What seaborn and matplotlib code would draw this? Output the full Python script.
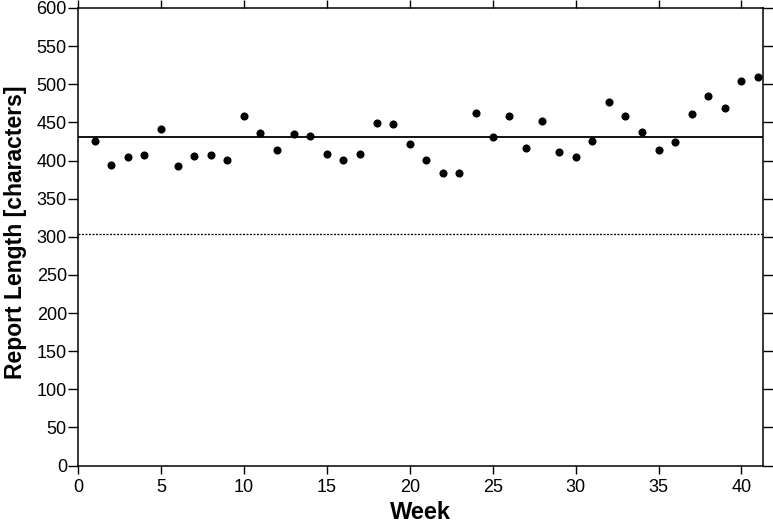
import matplotlib
matplotlib.use("Agg")
import matplotlib.pyplot as plt
import seaborn as sns
import pandas as pd

weeks = list(range(1, 42))
report_length = [425, 394, 404, 407, 441, 393, 406, 407, 401, 459,
                 436, 414, 435, 432, 409, 401, 408, 449, 448, 422,
                 401, 383, 383, 462, 431, 458, 417, 452, 411, 405,
                 426, 477, 458, 438, 414, 424, 461, 485, 469, 504,
                 510]
mean_level = 431
reference_level = 304
x_ticks = [0, 5, 10, 15, 20, 25, 30, 35, 40]
y_ticks = list(range(0, 601, 50))

df = pd.DataFrame({"Week": weeks, "Length": report_length})

sns.set_theme(style="ticks")
plt.rcParams['font.family'] = ['Liberation Sans', 'DejaVu Sans']
plt.rcParams['text.color'] = 'black'
plt.rcParams['axes.labelcolor'] = 'black'
plt.rcParams['xtick.color'] = 'black'
plt.rcParams['ytick.color'] = 'black'

fig = plt.figure(figsize=(7.73, 5.26), dpi=100)
ax = fig.add_axes([78/773, (526-465.5)/526, (763-78)/773, (465.5-8)/526])

ax.axhline(mean_level, color="black", lw=1.3, zorder=1)
ax.axhline(reference_level, color="black", lw=0.9, linestyle=(0, (1.6, 1.2)), zorder=1)

sns.scatterplot(data=df, x="Week", y="Length", ax=ax, color="black",
                s=34, edgecolor="black", linewidth=0, zorder=3, legend=False)

ax.set_xlim(0, 41.3)
ax.set_ylim(0, 600)
ax.set_xticks(x_ticks)
ax.set_yticks(y_ticks)
ax.tick_params(axis="both", which="major", direction="out", labelsize=13,
               width=1.0, color="black", labelcolor="black")
ax.tick_params(axis="y", length=7, pad=1)
ax.tick_params(axis="x", length=5.5, pad=4)
ax.tick_params(top=True, right=True, labeltop=False, labelright=False)
for sp in ax.spines.values():
    sp.set_visible(True)
    sp.set_linewidth(1.1)
    sp.set_color("black")

ax.set_xlabel("Week", fontsize=17, fontweight="bold", labelpad=4, color="black")
ax.set_ylabel("Report Length [characters]", fontsize=16.5, fontweight="bold",
              color="black")
ax.yaxis.set_label_coords(-0.074, 0.51)

fig.savefig("out.png", dpi=100)
